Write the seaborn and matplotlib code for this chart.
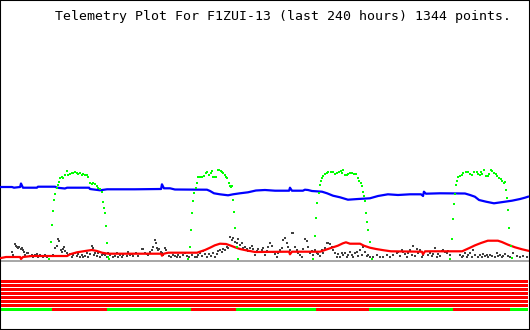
import matplotlib
matplotlib.use("Agg")
import matplotlib.pyplot as plt
import seaborn as sns
import pandas as pd

TITLE = "Telemetry Plot For F1ZUI-13 (last 240 hours) 1344 points."
HOURS = 240

# Blue channel (hours, arbitrary units above baseline)
blue_t = [0, 5.0, 5.9, 8.7, 9.1, 10.0, 16.4, 16.8, 24.6, 25.5, 29.1, 30.1, 40.1, 40.5, 45.1, 48.3,
          61.0, 72.9, 73.3, 74.2, 77.0, 79.2, 93.8, 95.2, 97.0, 99.7, 103.4, 105.7, 108.8, 112.5,
          116.1, 120.2, 124.8, 131.2, 131.6, 132.5, 137.5, 138.4, 139.8, 141.6, 146.2, 148.5,
          151.2, 154.4, 158.0, 162.6, 168.0, 171.7, 176.2, 180.8, 186.3, 191.3, 192.2, 192.6,
          193.5, 199.9, 211.3, 213.6, 215.8, 217.7, 220.9, 224.5, 228.6, 232.7, 236.4, 238.6, 240]
blue_v = [73.5, 73.5, 72.8, 73.5, 77.0, 72.8, 72.8, 73.8, 73.8, 72.8, 72.0, 72.8, 72.8, 71.5, 70.2, 71.2,
          71.2, 71.5, 76.2, 72.2, 72.2, 71.0, 70.8, 69.5, 67.2, 66.2, 65.2, 66.2, 67.2, 68.2,
          70.0, 70.5, 69.8, 69.8, 72.8, 69.8, 69.8, 70.8, 70.5, 69.5, 68.8, 67.2,
          64.8, 63.2, 60.8, 61.5, 62.2, 64.5, 66.2, 65.5, 66.2, 66.2, 64.5, 68.8,
          66.8, 67.2, 67.0, 65.5, 63.8, 60.5, 58.8, 57.2, 58.5, 59.8, 61.5, 62.8, 63.8]

# Red channel
red_t = [0, 2.3, 8.7, 9.1, 10.0, 14.1, 30.1, 31.4, 34.6, 39.2, 41.4, 43.7, 46.0, 48.7, 72.9, 73.3,
         74.2, 76.1, 89.3, 90.6, 92.9, 95.2, 97.4, 99.7, 102.5, 104.7, 106.6, 108.8, 111.6, 115.7,
         131.2, 131.6, 132.5, 145.3, 146.6, 148.9, 151.2, 153.4, 155.7, 157.1, 158.9, 163.5, 165.3,
         168.0, 170.8, 174.4, 177.6, 191.7, 192.2, 193.1, 210.0, 211.3, 213.6, 215.9, 218.6, 221.7,
         226.3, 228.1, 230.9, 234.1, 237.3, 240]
red_v = [2.5, 3.5, 3.5, 1.5, 3.5, 4.5, 4.5, 6.2, 8.2, 9.8, 10.5, 9.5, 7.8, 6.8, 6.8, 4.8,
         6.8, 7.8, 7.8, 8.8, 10.5, 12.8, 15.2, 16.8, 16.5, 14.8, 13.2, 11.5, 10.2, 8.5,
         8.8, 6.2, 8.8, 8.8, 9.8, 11.5, 13.2, 14.8, 17.2, 18.2, 16.8, 16.8, 14.8,
         12.8, 11.5, 10.2, 9.2, 8.8, 6.2, 9.2, 9.2, 10.5, 12.8, 15.2, 17.5, 19.8,
         19.8, 18.5, 15.8, 13.2, 11.2, 9.8]

# Green channel (sparse samples)
green_t = [22.0, 22.8, 23.4, 23.8, 24.3, 24.7, 25.4, 25.8, 26.3, 26.9, 27.6, 28.4, 29.1, 29.9, 30.6,
           31.4, 32.2, 32.9, 33.7, 34.5, 35.2, 36.0, 36.8, 37.5, 38.3, 39.0, 39.8, 40.5, 41.3, 42.0,
           42.8, 43.6, 44.3, 45.1, 45.9, 46.3, 46.9, 47.5, 48.0, 48.4, 48.9, 49.3,
           85.3, 86.1, 86.7, 87.1, 87.6, 88.0, 88.7, 89.1, 89.6, 90.2, 90.9, 91.7, 92.4, 93.4, 93.9,
           94.7, 95.5, 96.1, 96.7, 97.5, 97.9, 98.7, 99.4, 100.1, 100.7, 101.2, 101.9, 102.5, 103.1,
           103.7, 104.3, 104.9, 105.3, 105.8, 106.3, 106.7, 107.3, 107.9,
           141.9, 143.1, 143.6, 144.0, 144.7, 145.1, 145.6, 146.2, 146.8, 147.4, 148.3, 149.1, 150.1,
           151.1, 152.0, 152.9, 153.8, 154.7, 155.3, 155.9, 156.7, 157.4, 158.2, 158.9, 159.8, 160.7,
           161.7, 162.4, 163.2, 163.9, 164.5, 165.0, 165.5, 165.9, 166.4, 166.8, 167.3, 167.9, 169.1,
           204.5, 205.4, 206.0, 206.4, 206.9, 207.4, 207.8, 208.3, 209.0, 209.8, 210.5, 211.6, 212.6,
           213.6, 214.4, 215.5, 216.6, 217.4, 218.1, 218.6, 219.2, 220.1, 220.7, 221.6, 222.4, 223.1,
           223.7, 224.5, 225.3, 226.0, 226.8, 227.6, 228.3, 229.1, 229.5, 230.1, 230.6, 231.0, 231.5,
           232.1, 232.6]
green_v = [1.2, 18.8, 35.5, 49.8, 60.5, 66.5, 72.2, 75.5, 78.8, 82.2, 83.2, 82.2, 85.5, 89.5, 85.5,
           86.5, 87.2, 87.8, 88.8, 87.8, 86.5, 87.8, 85.5, 86.5, 85.5, 85.5, 83.2, 77.2, 76.5, 77.2,
           76.2, 74.5, 72.2, 71.2, 68.8, 58.8, 52.2, 47.2, 34.5, 17.8, 3.8, 1.2,
           1.2, 13.8, 30.5, 47.2, 59.8, 67.8, 72.2, 77.8, 83.2, 83.8, 83.2, 83.8, 84.5, 87.2, 88.5,
           85.5, 87.8, 89.5, 83.8, 83.2, 83.2, 90.5, 90.5, 89.8, 88.8, 87.8, 85.5, 83.8, 82.2,
           77.2, 74.5, 73.2, 74.5, 60.5, 48.8, 32.2, 13.2, 1.8,
           1.2, 24.5, 42.8, 57.8, 67.2, 75.5, 79.8, 82.2, 84.5, 86.5, 87.8, 88.5, 88.5,
           88.2, 86.5, 87.8, 88.8, 89.8, 87.8, 90.5, 85.5, 85.5, 86.5, 87.8, 87.2, 86.5,
           86.5, 82.2, 79.8, 77.8, 74.5, 68.8, 64.5, 59.5, 47.8, 38.5, 30.5, 18.8, 1.2,
           1.2, 21.5, 41.5, 56.2, 66.2, 75.5, 79.8, 83.8, 84.5, 85.5, 87.2, 88.2, 88.5,
           86.5, 85.5, 88.8, 88.5, 86.5, 85.5, 88.2, 86.5, 90.5, 84.5, 84.5, 86.5, 90.5,
           89.5, 87.8, 86.5, 84.5, 82.8, 81.2, 79.5, 77.8, 78.8, 70.5, 62.2, 50.5, 32.8,
           14.5, 2.8]

# Dark (noisy) channel
black_t = [4.9, 5.6, 6.4, 6.8, 7.4, 7.9, 8.3, 9.0, 9.4, 9.9, 10.5, 10.9, 11.7, 12.4, 13.2, 14.0, 14.7,
           15.5, 16.3, 17.0, 17.8, 18.5, 19.3, 20.0, 20.8, 22.3, 23.8, 24.6, 25.4, 26.1, 26.5, 27.2,
           27.6, 28.1, 28.7, 29.1, 29.9, 30.6, 31.4, 32.2, 32.9, 33.7, 34.5, 35.2, 36.0, 36.8, 37.5,
           38.3, 39.0, 39.8, 40.5, 41.3, 41.8, 42.4, 42.8, 43.6, 44.3, 45.1, 45.9, 46.6, 47.4, 48.1,
           48.9, 49.6, 51.1, 51.9, 52.7, 53.4, 54.2, 55.0, 55.7, 57.2, 58.0, 58.7, 59.5, 60.2,
           61.5, 62.5, 64.1, 64.8, 65.6, 66.4, 67.1, 67.9, 68.6, 69.4, 70.1, 70.6, 71.2, 71.6, 72.1,
           72.7, 73.2, 73.9, 74.7, 75.1, 75.7, 76.6, 77.3, 78.2, 79.2, 80.0, 80.7, 81.5, 83.0, 83.8,
           84.8, 85.8, 86.8, 88.3, 89.1, 89.9, 90.6, 91.4, 92.1, 92.9, 93.9, 94.9, 95.5, 96.4, 97.5,
           98.2, 99.0, 99.7, 100.5, 101.2, 102.0, 102.8, 103.5, 104.3, 105.1, 105.8, 106.6, 107.3,
           108.1, 108.8, 109.6, 110.3, 111.1, 111.9, 112.6, 113.4, 114.2, 114.9, 115.7, 116.4, 117.2,
           117.9, 118.7, 119.5, 120.2, 121.0, 121.7, 122.5, 123.3, 124.0, 124.8, 125.6, 126.3, 127.1,
           127.8, 128.6, 129.3, 130.1, 130.8, 131.6, 132.4, 133.1, 133.9, 134.7, 135.4, 136.2, 136.9,
           137.7, 138.4, 139.2, 139.9, 140.7, 141.5, 142.2, 143.0, 143.8, 144.5, 145.3, 146.0, 146.8,
           147.6, 148.3, 149.1, 149.8, 150.6, 151.3, 152.1, 152.9, 153.6, 154.4, 155.2, 155.9, 156.7,
           157.4, 158.2, 158.9, 159.7, 160.4, 161.2, 162.0, 162.7, 163.5, 164.3, 165.0, 165.8, 166.5,
           167.3, 168.0, 169.6, 171.1, 172.6, 174.1, 175.6, 177.2, 178.7,
           180.2, 180.9, 181.7, 182.5, 183.2, 184.0, 184.8, 185.5, 186.3, 187.0, 187.8, 188.5, 189.3,
           190.1, 190.8, 191.6, 192.3, 194.6, 195.4, 196.1, 196.9, 197.6, 198.4, 199.2, 199.9, 200.7,
           201.4, 202.2, 203.0, 203.7, 204.5, 209.0, 209.8, 210.5, 211.3, 212.1, 212.8, 213.6, 214.4,
           215.1, 215.9, 217.4, 218.1, 218.9, 219.6, 220.4, 221.2, 221.9, 222.7, 223.5, 225.0, 225.7,
           226.5, 227.3, 228.0, 228.8, 229.5, 231.0, 231.8, 233.3, 234.8, 236.4, 237.9, 239.4]
black_v = [8.8, 5.5, 16.5, 14.8, 13.2, 12.2, 13.8, 11.2, 12.2, 10.5, 8.8, 5.5, 7.2, 7.8, 4.5, 5.5, 3.2,
           5.5, 6.5, 3.8, 5.5, 4.5, 3.2, 5.5, 3.8, 4.5, 5.5, 12.2, 14.5, 21.2, 19.8, 10.5,
           8.8, 11.2, 13.2, 9.8, 7.2, 5.5, 6.5, 3.8, 5.5, 7.2, 4.5, 6.5, 3.8, 5.5, 3.2,
           4.5, 7.2, 3.2, 6.5, 14.5, 12.2, 5.5, 7.8, 4.5, 7.2, 3.2, 5.5, 6.5, 5.5, 3.8,
           7.2, 5.5, 3.8, 4.5, 7.2, 3.2, 5.5, 3.8, 5.5, 4.5, 8.8, 5.5, 6.5, 4.5,
           7.2, 4.5, 11.2, 11.2, 7.8, 6.5, 5.5, 8.8, 10.5, 13.2, 20.5, 17.2, 12.2, 10.5, 11.2,
           8.8, 7.2, 5.5, 12.2, 10.5, 7.8, 4.5, 3.2, 5.5, 4.5, 3.8, 5.5, 3.8, 5.5, 7.2,
           4.5, 3.2, 5.5, 3.8, 3.2, 5.5, 7.8, 4.5, 9.8, 6.5, 3.8, 6.5, 4.5, 7.2, 3.8,
           6.5, 9.8, 10.5, 8.8, 11.2, 10.5, 13.2, 12.2, 23.2, 20.5, 22.2, 18.8, 17.8,
           21.2, 15.5, 17.8, 12.2, 13.2, 11.2, 9.8, 12.2, 14.5, 11.2, 5.5, 9.8, 11.2,
           8.8, 10.5, 12.2, 5.5, 9.8, 13.2, 17.8, 14.5, 8.8, 6.5, 3.8, 7.2, 10.5,
           12.2, 20.5, 22.2, 17.2, 13.2, 10.5, 27.2, 27.8, 13.2, 10.5, 7.8, 5.5, 3.8,
           11.2, 21.2, 19.8, 13.2, 7.8, 9.8, 5.5, 10.5, 7.8, 6.5, 4.5, 10.5, 7.8,
           12.2, 17.2, 17.8, 16.5, 13.2, 10.5, 7.2, 3.8, 6.5, 3.8, 7.8, 5.5, 7.8,
           3.8, 5.5, 8.8, 5.5, 3.8, 7.2, 8.8, 4.5, 10.5, 5.5, 13.2, 8.8, 4.5,
           5.5, 3.2, 3.2, 5.5, 3.8, 3.2, 5.5, 3.2, 5.5,
           7.2, 8.8, 4.5, 10.5, 8.8, 6.5, 3.8, 7.2, 10.5, 5.5, 14.5, 4.5, 11.2,
           7.2, 10.5, 3.2, 5.5, 5.5, 7.8, 4.5, 6.5, 12.2, 3.8, 6.5, 4.5, 9.8,
           10.5, 8.8, 7.8, 9.8, 5.5, 5.5, 3.2, 4.5, 7.2, 3.8, 5.5, 7.8, 3.2,
           10.5, 5.5, 3.8, 5.5, 3.2, 6.5, 4.5, 5.5, 3.2, 5.5, 4.5, 3.2, 7.2,
           4.5, 5.5, 3.2, 4.5, 6.5, 4.5, 3.2, 7.2, 4.5, 3.2, 4.5, 3.2]

# Status rows (bottom strip): 7 channels constantly "on", 1 channel toggling
status_channels = ["ch1", "ch2", "ch3", "ch4", "ch5", "ch6", "ch7", "ch8"]
seg_start = [0, 23.1, 48.1, 86.5, 107.0, 143.5, 167.6, 206.0, 231.8]
seg_end = [23.1, 48.1, 86.5, 107.0, 143.5, 167.6, 206.0, 231.8, 240]
seg_state = ["off", "on", "off", "on", "off", "on", "off", "on", "off"]

BLUE, RED, GREEN, DARK, GRAY = "#0000ff", "#ff0000", "#00ff00", "#404040", "#a8a8a8"
STATE_COLOR = {"on": RED, "off": GREEN}

W, H = 530, 330
fig = plt.figure(figsize=(W / 100, H / 100), dpi=100)
fig.patch.set_facecolor("white")

ax = fig.add_axes([0, 0, 1, 1])
px_h = HOURS / 527.0
ax.set_xlim(-1 * px_h, HOURS + 2 * px_h)
ax.set_ylim(-69.5, 260.5)
ax.set_xticks([])
ax.set_yticks([])
for sp in ax.spines.values():
    sp.set_visible(True)
    sp.set_color("black")
    sp.set_linewidth(1.5)

ax.axhline(0, color=GRAY, lw=1.44, zorder=1)

df_black = pd.DataFrame({"t": black_t, "v": black_v})
df_green = pd.DataFrame({"t": green_t, "v": green_v})
df_blue = pd.DataFrame({"t": blue_t, "v": blue_v})
df_red = pd.DataFrame({"t": red_t, "v": red_v})

sns.scatterplot(data=df_black, x="t", y="v", ax=ax, color=DARK, marker="s", s=2.2,
                linewidth=0, zorder=2, legend=False)
sns.lineplot(data=df_red, x="t", y="v", ax=ax, color=RED, lw=1.6, estimator=None,
             sort=False, zorder=3, legend=False)
sns.lineplot(data=df_blue, x="t", y="v", ax=ax, color=BLUE, lw=1.6, estimator=None,
             sort=False, zorder=3, legend=False)
sns.scatterplot(data=df_green, x="t", y="v", ax=ax, color=GREEN, marker="s", s=2.5,
                linewidth=0, zorder=4, legend=False)
ax.set_xlabel("")
ax.set_ylabel("")

fig.text(283 / W, 1 - 16.5 / H, TITLE, ha="center", va="center",
         family="DejaVu Sans Mono", fontsize=9.5, color="black")

# Status strip
sax = fig.add_axes([1 / W, (H - 312) / H, 527 / W, 32 / H])
sax.set_xlim(0, HOURS)
sax.set_ylim(len(status_channels) - 0.375, -0.375)
sax.axis("off")
for i, ch in enumerate(status_channels[:-1]):
    sax.barh(i, HOURS, left=0, height=0.75, color=RED, linewidth=0)
last = len(status_channels) - 1
for s0, s1, st in zip(seg_start, seg_end, seg_state):
    sax.barh(last, s1 - s0, left=s0, height=0.75, color=STATE_COLOR[st], linewidth=0)

fig.savefig("out.png", dpi=100, facecolor="white")
